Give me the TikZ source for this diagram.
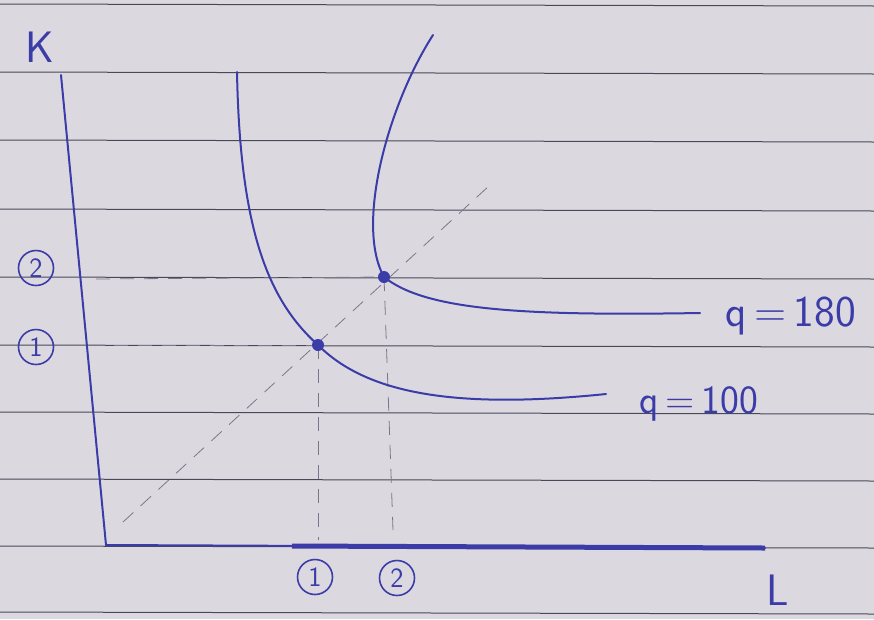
\documentclass[tikz,border=0pt]{standalone}
\definecolor{inkblue}{RGB}{60,60,168}
\definecolor{paper}{RGB}{219,217,223}
\definecolor{ruling}{RGB}{72,72,88}
\definecolor{pencil}{RGB}{120,120,140}
\begin{document}
\begin{tikzpicture}[x=1pt, y=-1pt,
    ink/.style={draw=inkblue, line width=2pt, line cap=round},
    guide/.style={draw=pencil, dashed, dash pattern=on 14pt off 10pt, line width=0.8pt},
    num/.style={circle, draw=inkblue, text=inkblue, line width=1.6pt, minimum size=35pt, inner sep=0pt, font=\sffamily\fontsize{28}{30}\selectfont},
    hand/.style={text=inkblue, font=\sffamily\fontsize{44}{48}\selectfont}]
    % Paper
    \fill[paper] (0,0) rectangle (874,619);
    \useasboundingbox (0,0) rectangle (874,619);
    \foreach \y in {4,72,140,209,277,345,412,479,546,612}
        \draw[ruling, line width=1pt] (0,\y) -- (874,\y+2);

    % Axes
    \coordinate (ktop) at (61,75);
    \coordinate (origin) at (106,545);
    \coordinate (lend) at (765,548);
    \draw[ink] (ktop) -- (origin) -- (lend);
    \draw[inkblue, line width=5pt] (292,546) -- (lend);
    \node[hand] (klabel) at (40,47) {K};
    \node[hand] (llabel) at (778,590) {L};

    % Tangency points
    \coordinate (ptA) at (318,345);
    \coordinate (ptB) at (384,277);

    % Guides (pencil)
    \draw[guide] (123,522) -- (490,185);
    \draw[guide] (90,345) -- (ptA);
    \draw[guide] (96,279) -- (ptB);
    \draw[guide] (ptA) -- (318,540);
    \draw[guide] (ptB) -- (393,530);

    % Isoquants
    \coordinate (qlowtop) at (237,72);
    \coordinate (qlowend) at (606,394);
    \coordinate (qhightop) at (433,35);
    \coordinate (qhighend) at (700,313);
    \draw[ink] (qlowtop) .. controls (240,230) and (268,300) .. (ptA)
        .. controls (365,392) and (450,410) .. (qlowend);
    \draw[ink] (qhightop) .. controls (388,105) and (355,225) .. (ptB)
        .. controls (425,310) and (520,316) .. (qhighend);
    \fill[inkblue] (ptA) circle (6);
    \fill[inkblue] (ptB) circle (6);

    % Labels
    \node[hand, anchor=west] (qhigh) at (722,316) {q\,=\,180};
    \node[hand, anchor=west, font=\sffamily\fontsize{40}{44}\selectfont] (qlow) at (636,404) {q\,=\,100};
    \node[num] (ktwo) at (36,268) {2};
    \node[num] (kone) at (36,347) {1};
    \node[num] (lone) at (315,577) {1};
    \node[num] (ltwo) at (397,578) {2};
\end{tikzpicture}
\end{document}
